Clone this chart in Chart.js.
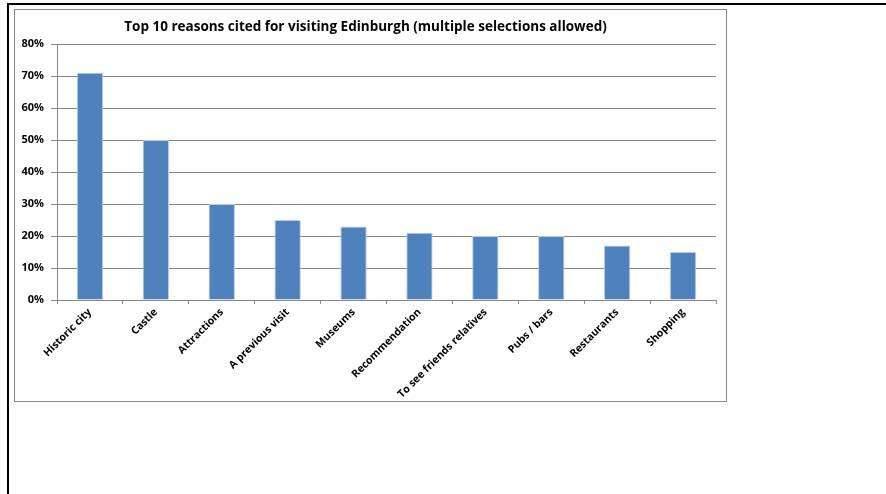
<!DOCTYPE html>
<html>
<head>
<meta charset="utf-8">
<script src="https://cdn.jsdelivr.net/npm/chart.js@4"></script>
<style>
  html, body { margin: 0; padding: 0; background: #fff; }
  body { width: 886px; height: 494px; position: relative; overflow: hidden; }
  .frame { position: absolute; left: 7px; top: 3px; width: 900px; height: 520px;
           border-top: 2px solid #000; border-left: 2px solid #000; }
  .box { position: absolute; left: 14px; top: 9px; width: 711px; height: 391px;
         border: 1px solid #888; }
  canvas { display: block; }
</style>
</head>
<body>
<div class="frame"></div>
<div class="box"><canvas id="miGrafica" width="711" height="391"></canvas></div>
<script>
// datos
const reasons = ['Historic city', 'Castle', 'Attractions', 'A previous visit', 'Museums',
  'Recommendation', 'To see friends relatives', 'Pubs / bars', 'Restaurants', 'Shopping']
const percentCited = [71, 50, 30, 25, 23, 21, 20, 20, 17, 15]
const yTicks = [0, 10, 20, 30, 40, 50, 60, 70, 80]

const chartTitle = 'Top 10 reasons cited for visiting Edinburgh (multiple selections allowed)'
const fontFam = '"Open Sans", Lato, sans-serif'

const ctx = document.getElementById('miGrafica').getContext('2d')

new Chart(ctx, {
  type: 'bar',
  data: {
    labels: reasons,
    datasets: [{
      label: 'Reasons',
      data: percentCited,
      backgroundColor: '#4F81BD',
      borderColor: '#B9CDE5',
      borderWidth: 1,
      categoryPercentage: 1,
      barPercentage: 0.4
    }]
  },
  options: {
    responsive: false,
    animation: false,
    devicePixelRatio: 1,
    layout: { padding: { left: 0, right: 10, top: 0, bottom: 0 } },
    scales: {
      x: {
        grid: { drawOnChartArea: false, drawTicks: true, tickLength: 4, color: '#868686', offset: true },
        border: { color: '#868686' },
        ticks: {
          autoSkip: false, maxRotation: 45, minRotation: 45, padding: 2,
          color: '#000', font: { size: 10.5, weight: 'bold', family: fontFam }
        },
        afterFit: (scale) => { scale.height = 101 }
      },
      y: {
        min: 0,
        max: 80,
        afterBuildTicks: (scale) => { scale.ticks = yTicks.map(v => ({ value: v })) },
        grid: { color: '#868686', tickLength: 6 },
        border: { color: '#868686' },
        ticks: {
          padding: 7,
          color: '#000',
          font: { size: 11, weight: 'bold', family: fontFam },
          callback: (v) => v + '%'
        },
        afterFit: (scale) => { scale.width = 42 }
      }
    },
    plugins: {
      legend: { display: false },
      tooltip: { enabled: false },
      title: {
        display: true,
        text: chartTitle,
        color: '#000',
        font: { size: 13.5, weight: 'bold', family: fontFam, lineHeight: 1.2 },
        padding: { top: 9, bottom: 8.8 }
      }
    }
  }
})
</script>
</body>
</html>
